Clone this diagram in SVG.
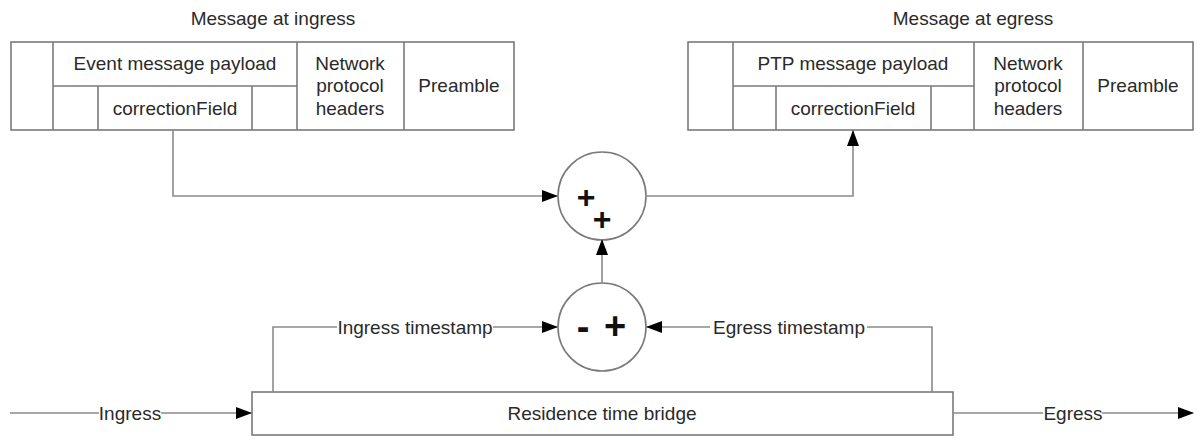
<svg xmlns="http://www.w3.org/2000/svg" width="1197" height="439" viewBox="0 0 1197 439">
<style>
.bx{fill:none;stroke:#7a7a7a;stroke-width:1.6}
.ln{fill:none;stroke:#8a8a8a;stroke-width:1.6}
.t{font-family:"Liberation Sans",Arial,sans-serif;font-size:19px;fill:#2a2a2a;text-anchor:middle}
.op{font-family:"Liberation Sans",Arial,sans-serif;font-size:32px;font-weight:bold;fill:#111;text-anchor:middle}
.opl{font-family:"Liberation Sans",Arial,sans-serif;font-size:38px;font-weight:bold;fill:#111;text-anchor:middle}
</style>
<defs>
<marker id="ah" markerWidth="16" markerHeight="12" refX="15" refY="6" orient="auto" markerUnits="userSpaceOnUse">
<path d="M0,0 L16,6 L0,12 Z" fill="#000"/>
</marker>
</defs>
<rect width="1197" height="439" fill="#fff"/>

<g id="ingress-message">
<text class="t" x="273" y="25">Message at ingress</text>
<rect class="bx" x="11" y="42" width="503" height="88"/>
<line class="bx" x1="53" y1="42" x2="53" y2="130"/>
<line class="bx" x1="297" y1="42" x2="297" y2="130"/>
<line class="bx" x1="404" y1="42" x2="404" y2="130"/>
<line class="bx" x1="53" y1="86" x2="297" y2="86"/>
<line class="bx" x1="98" y1="86" x2="98" y2="130"/>
<line class="bx" x1="252" y1="86" x2="252" y2="130"/>
<text class="t" x="175" y="70">Event message payload</text>
<text class="t" x="175" y="115">correctionField</text>
<text class="t" x="350" y="70">Network</text>
<text class="t" x="350" y="92">protocol</text>
<text class="t" x="350" y="115">headers</text>
<text class="t" x="459" y="92">Preamble</text>
</g>

<g id="egress-message">
<text class="t" x="973" y="25">Message at egress</text>
<rect class="bx" x="688" y="42" width="505" height="88"/>
<line class="bx" x1="733" y1="42" x2="733" y2="130"/>
<line class="bx" x1="974" y1="42" x2="974" y2="130"/>
<line class="bx" x1="1083" y1="42" x2="1083" y2="130"/>
<line class="bx" x1="733" y1="86" x2="974" y2="86"/>
<line class="bx" x1="776" y1="86" x2="776" y2="130"/>
<line class="bx" x1="931" y1="86" x2="931" y2="130"/>
<text class="t" x="853" y="70">PTP message payload</text>
<text class="t" x="853" y="115">correctionField</text>
<text class="t" x="1028" y="70">Network</text>
<text class="t" x="1028" y="92">protocol</text>
<text class="t" x="1028" y="115">headers</text>
<text class="t" x="1138" y="92">Preamble</text>
</g>

<g id="adder">
<circle class="bx" cx="602" cy="196" r="44"/>
<text class="op" x="586" y="208">+</text>
<text class="op" x="602" y="230">+</text>
</g>

<g id="subtractor">
<circle class="bx" cx="602" cy="327" r="44"/>
<text class="opl" x="583" y="340">-</text>
<text class="opl" x="615" y="339">+</text>
</g>

<g id="bridge">
<rect class="bx" x="252" y="392" width="701" height="43"/>
<text class="t" x="602" y="420">Residence time bridge</text>
</g>

<g id="connectors">
<path class="ln" d="M173,130 V196 H557" marker-end="url(#ah)"/>
<path class="ln" d="M646,196 H853 V131" marker-end="url(#ah)"/>
<path class="ln" d="M602,283 V240" marker-end="url(#ah)"/>
<path class="ln" d="M273,392 V327 H337 M493,327 H557" marker-end="url(#ah)"/>
<path class="ln" d="M932,392 V327 H867 M710,327 H647" marker-end="url(#ah)"/>
<path class="ln" d="M10,413 H99 M161,413 H251" marker-end="url(#ah)"/>
<path class="ln" d="M953,413 H1043 M1102,413 H1193" marker-end="url(#ah)"/>
<text class="t" x="415" y="334">Ingress timestamp</text>
<text class="t" x="789" y="334">Egress timestamp</text>
<text class="t" x="130" y="420">Ingress</text>
<text class="t" x="1073" y="420">Egress</text>
</g>
</svg>
